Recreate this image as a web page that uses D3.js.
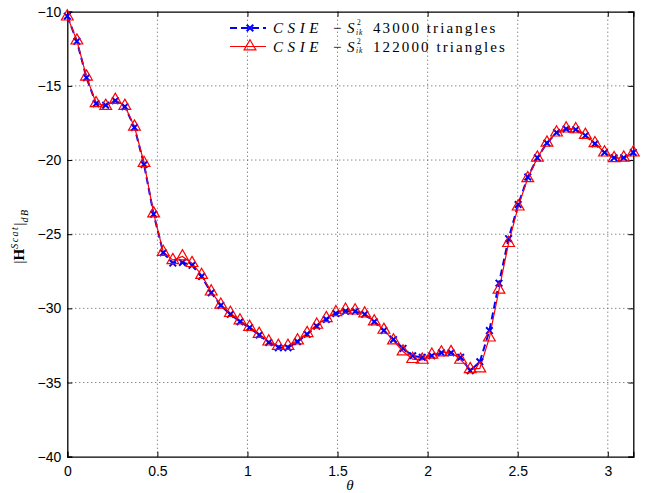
<!DOCTYPE html>
<html>
<head>
<meta charset="utf-8">
<script src="https://cdn.jsdelivr.net/npm/d3@7"></script>
<style>
  body { margin: 0; background: #fff; }
  svg text { fill: #000; }
</style>
</head>
<body>
<div id="chart"></div>
<script>
// sampling grid: 60 angles from 0 to pi
const theta = d3.range(60).map(i => i * Math.PI / 59);

// |H scat| in dB, 43000 triangles (blue, dashed, x markers)
const coarse = [
  -10.3, -12.0, -14.45, -16.2, -16.3, -16.0, -16.4, -17.8, -20.3, -23.65,
  -26.25, -26.95, -26.9, -27.1, -27.85, -28.95, -29.8, -30.4, -30.9, -31.3,
  -31.8, -32.3, -32.65, -32.65, -32.25, -31.75, -31.2, -30.75, -30.35, -30.2,
  -30.2, -30.4, -30.9, -31.5, -32.1, -32.7, -33.2, -33.3, -33.2, -33.0,
  -33.0, -33.3, -34.2, -33.6, -31.5, -28.3, -25.3, -23.0, -21.15, -19.85,
  -18.85, -18.15, -17.9, -17.95, -18.35, -18.9, -19.5, -19.85, -19.85, -19.5
];

// |H scat| in dB, 122000 triangles (red, solid, triangle markers)
const fine = [
  -10.33, -11.95, -14.38, -16.17, -16.35, -15.95, -16.35, -17.75, -20.2, -23.6,
  -26.2, -26.75, -26.5, -26.95, -27.75, -28.87, -29.76, -30.32, -30.82, -31.25,
  -31.72, -32.24, -32.53, -32.53, -32.17, -31.67, -31.11, -30.66, -30.26, -30.1,
  -30.15, -30.35, -30.89, -31.45, -32.17, -32.91, -33.42, -33.47, -33.13, -32.98,
  -32.95, -33.47, -34.1, -34.05, -31.97, -28.75, -25.6, -23.14, -21.23, -19.84,
  -18.83, -18.15, -17.88, -17.93, -18.31, -18.87, -19.5, -19.88, -19.84, -19.5
];

const seriesNames = ["43000", "122000"];
const xTicks = [0, 0.5, 1, 1.5, 2, 2.5, 3];
const yTicks = [-40, -35, -30, -25, -20, -15, -10];

const width = 662, height = 493;
const margin = { left: 67.3, right: 662 - 633.3, top: 11.7, bottom: 493 - 456.7 };
const innerW = width - margin.left - margin.right;
const innerH = height - margin.top - margin.bottom;

const svg = d3.select("#chart").append("svg")
  .attr("width", width)
  .attr("height", height);

const g = svg.append("g")
  .attr("transform", `translate(${margin.left},${margin.top})`);

const x = d3.scaleLinear().domain([0, Math.PI]).range([0, innerW]);
const y = d3.scaleLinear().domain([-40, -10]).range([innerH, 0]);

// dotted grid
g.append("g").selectAll("line")
  .data(xTicks.filter(d => d > 0))
  .join("line")
  .attr("x1", d => x(d)).attr("x2", d => x(d))
  .attr("y1", 0).attr("y2", innerH)
  .attr("stroke", "#555").attr("stroke-width", 1)
  .attr("stroke-dasharray", "1,3");

g.append("g").selectAll("line")
  .data(yTicks.filter(d => d > -40 && d < -10))
  .join("line")
  .attr("x1", 0).attr("x2", innerW)
  .attr("y1", d => y(d)).attr("y2", d => y(d))
  .attr("stroke", "#555").attr("stroke-width", 1)
  .attr("stroke-dasharray", "1,3");

// axes with inward ticks
const fmt = d => d3.format("")(d).replace("-", "\u2212");
g.append("g")
  .attr("transform", `translate(0,${innerH})`)
  .call(d3.axisBottom(x).tickValues(xTicks).tickSize(-5).tickPadding(9).tickFormat(fmt));
g.append("g")
  .call(d3.axisLeft(y).tickValues(yTicks).tickSize(-5).tickPadding(6).tickFormat(fmt));
g.append("g")
  .call(d3.axisTop(x).tickValues(xTicks).tickSize(-5).tickFormat(""));
g.append("g")
  .attr("transform", `translate(${innerW},0)`)
  .call(d3.axisRight(y).tickValues(yTicks).tickSize(-5).tickFormat(""));

g.selectAll(".domain").attr("stroke", "#000").attr("stroke-width", 1.3);
g.selectAll(".tick line").attr("stroke", "#000");
g.selectAll(".tick text")
  .style("font-family", "'Liberation Sans', Arial, sans-serif")
  .style("font-size", "14px");

// lines
const line = (vals) => d3.line()
  .x((d, i) => x(theta[i]))
  .y(d => y(d))(vals);

g.append("path")
  .attr("d", line(coarse))
  .attr("fill", "none")
  .attr("stroke", "#0000ff")
  .attr("stroke-width", 2)
  .attr("stroke-dasharray", "7,4");

g.append("path")
  .attr("d", line(fine))
  .attr("fill", "none")
  .attr("stroke", "#ff0000")
  .attr("stroke-width", 1.2);

// x markers
const cross = d3.symbol().type(d3.symbolX).size(30);
g.append("g").selectAll("path")
  .data(coarse)
  .join("path")
  .attr("transform", (d, i) => `translate(${x(theta[i])},${y(d)})`)
  .attr("d", cross)
  .attr("fill", "none")
  .attr("stroke", "#0000ff")
  .attr("stroke-width", 2);

// triangle markers
const tri = d3.symbol().type(d3.symbolTriangle).size(60);
g.append("g").selectAll("path")
  .data(fine)
  .join("path")
  .attr("transform", (d, i) => `translate(${x(theta[i])},${y(d)})`)
  .attr("d", tri)
  .attr("fill", "none")
  .attr("stroke", "#ff0000")
  .attr("stroke-width", 1.2);

// legend
const legend = svg.append("g").attr("transform", "translate(230,28)");
const legendItems = [
  { n: seriesNames[0], color: "#0000ff", dash: "7,4", w: 2, sym: cross },
  { n: seriesNames[1], color: "#ff0000", dash: null, w: 1.2, sym: tri }
];
const serif = "'Liberation Serif', 'DejaVu Serif', serif";
legendItems.forEach((it, i) => {
  const row = legend.append("g").attr("transform", `translate(0,${i * 18.5})`);
  row.append("line")
    .attr("x1", 0).attr("x2", 36).attr("y1", 0).attr("y2", 0)
    .attr("stroke", it.color).attr("stroke-width", it.w)
    .attr("stroke-dasharray", it.dash);
  row.append("path")
    .attr("d", it.sym)
    .attr("transform", "translate(20,0)")
    .attr("fill", "none").attr("stroke", it.color).attr("stroke-width", it.w);
  const t = row.append("text")
    .attr("y", 5)
    .style("font-family", serif)
    .style("font-size", "15px");
  t.append("tspan").attr("x", 43).style("font-style", "italic").style("letter-spacing", "4.6px").text("CSIE");
  t.append("tspan").attr("x", 103).text("\u2212");
  t.append("tspan").attr("x", 117).style("font-style", "italic").text("S");
  t.append("tspan").attr("x", 143).style("letter-spacing", "2.1px").text(it.n + " triangles");
  // superscript and subscript as separate stacked labels
  row.append("text")
    .attr("x", 127).attr("y", -3)
    .style("font-family", serif).style("font-size", "7.5px")
    .text("2");
  row.append("text")
    .attr("x", 126).attr("y", 6.5)
    .style("font-family", serif).style("font-size", "7.5px")
    .style("font-style", "italic").style("letter-spacing", "1px")
    .text("ik");
});

// axis labels
svg.append("text")
  .attr("x", 350).attr("y", 490)
  .attr("text-anchor", "middle")
  .style("font-family", serif)
  .style("font-style", "italic")
  .style("font-size", "15px")
  .text("\u03b8");

const yl = svg.append("text")
  .attr("transform", "translate(24,236) rotate(-90)")
  .attr("text-anchor", "middle")
  .style("font-family", serif)
  .style("font-size", "15px");
yl.append("tspan").text("|");
yl.append("tspan").style("font-weight", "bold").text("H");
yl.append("tspan").attr("dy", -6).style("font-size", "10px").style("font-style", "italic").style("letter-spacing", "1.5px").text("Scat");
yl.append("tspan").attr("dy", 6).text("|");
yl.append("tspan").attr("dy", 4).style("font-size", "10px").style("font-style", "italic").style("letter-spacing", "1.5px").text("dB");
</script>
</body>
</html>
